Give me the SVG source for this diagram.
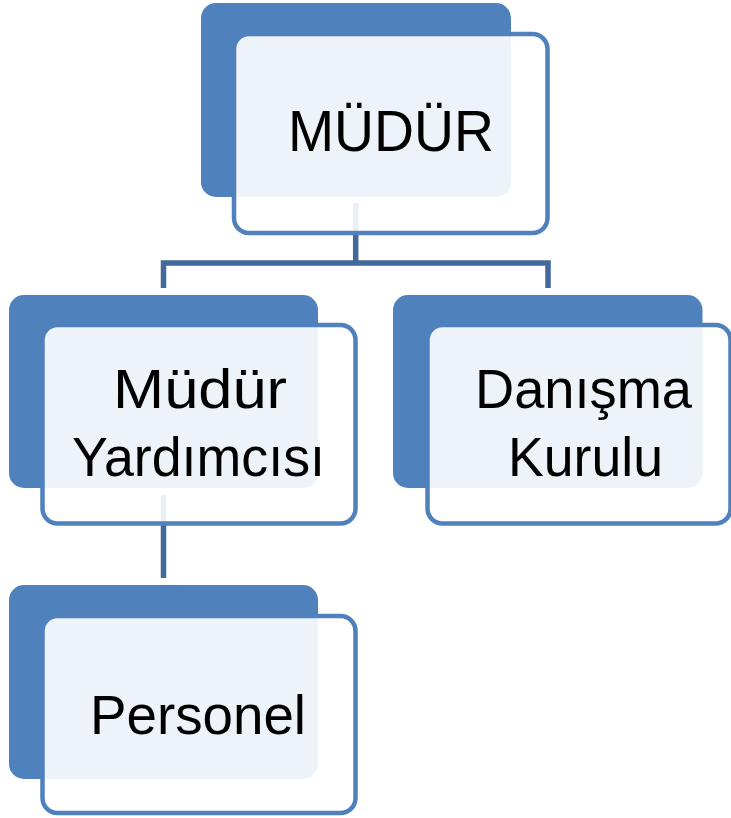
<svg xmlns="http://www.w3.org/2000/svg" width="731" height="818" viewBox="0 0 731 818">
<style>
.back{fill:#4F81BD;}
.front{fill:#FFFFFF;fill-opacity:0.9;stroke:#4F81BD;stroke-width:4.5;}
.conn{fill:none;stroke:#41699B;stroke-width:5.5;stroke-linejoin:miter;}
.lbl{font-family:"Liberation Sans","Noto Sans",Arial,sans-serif;fill:#000000;}
</style>
<rect width="731" height="818" fill="#FFFFFF"/>
<g id="connectors">
<path class="conn" d="M355.7,203 V263 M163.5,288 V263 H548 V288"/>
<path class="conn" d="M163.5,495 V578"/>
</g>
<g id="node-mudur">
<rect class="back" x="201" y="3" width="310" height="194" rx="15"/>
<rect class="front" x="234" y="34" width="313.5" height="199" rx="15"/>
<text class="lbl" x="288" y="151" font-size="58" textLength="206" lengthAdjust="spacingAndGlyphs">MÜDÜR</text>
</g>
<g id="node-mudur-yardimcisi">
<rect class="back" x="9" y="295" width="309" height="193" rx="15"/>
<rect class="front" x="42.5" y="325" width="313" height="198.5" rx="15"/>
<text class="lbl" x="113" y="408" font-size="56" textLength="174" lengthAdjust="spacingAndGlyphs">Müdür</text>
<text class="lbl" x="72" y="476" font-size="56" textLength="253" lengthAdjust="spacingAndGlyphs">Yardımcısı</text>
</g>
<g id="node-danisma-kurulu">
<rect class="back" x="393" y="295" width="309.5" height="193" rx="15"/>
<rect class="front" x="427.5" y="325" width="303" height="198.5" rx="15"/>
<text class="lbl" x="475" y="408" font-size="56" textLength="217" lengthAdjust="spacingAndGlyphs">Danışma</text>
<text class="lbl" x="508" y="476" font-size="56" textLength="155" lengthAdjust="spacingAndGlyphs">Kurulu</text>
</g>
<g id="node-personel">
<rect class="back" x="9" y="585" width="309" height="194" rx="15"/>
<rect class="front" x="42.5" y="616" width="313" height="197" rx="15"/>
<text class="lbl" x="90" y="734" font-size="56" textLength="216" lengthAdjust="spacingAndGlyphs">Personel</text>
</g>
</svg>
